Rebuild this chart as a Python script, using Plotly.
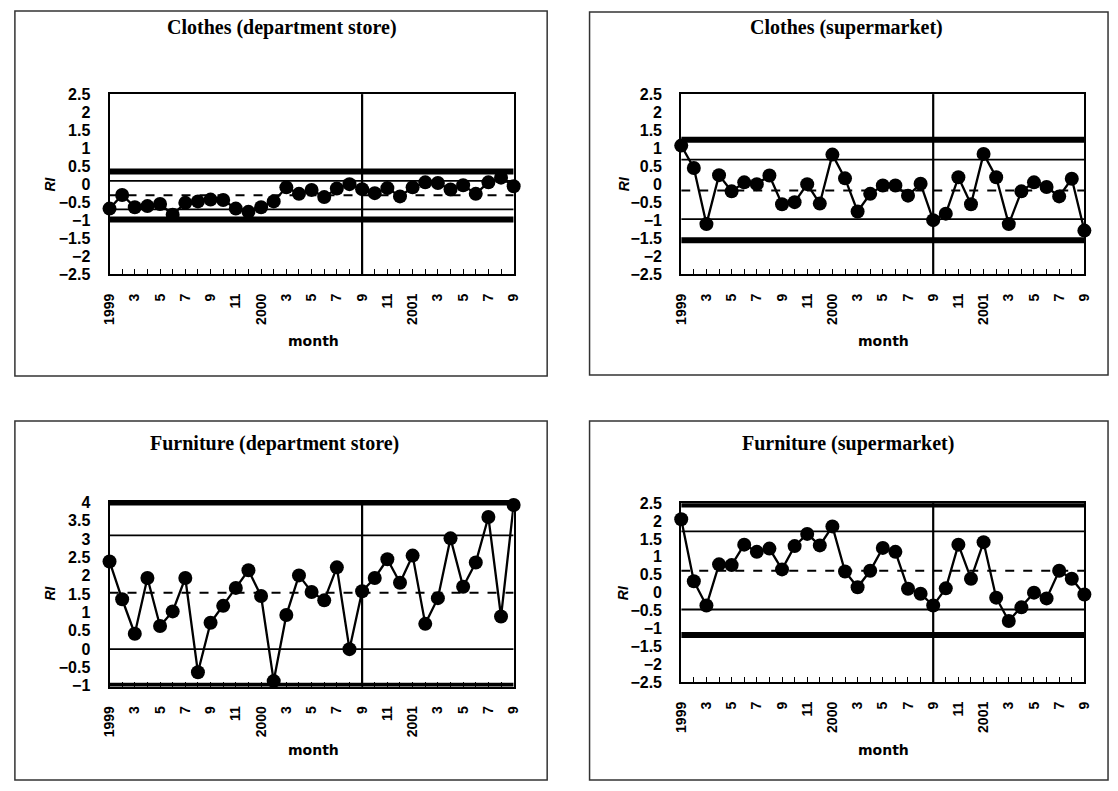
import plotly.graph_objects as go

# ---------------- data ----------------
months = ["1999", "2", "3", "4", "5", "6", "7", "8", "9", "10", "11", "12",
          "2000", "2", "3", "4", "5", "6", "7", "8", "9", "10", "11", "12",
          "2001", "2", "3", "4", "5", "6", "7", "8", "9"]
split_index = 20  # 2000-09 boundary

titles = ["Clothes (department store)", "Clothes (supermarket)",
          "Furniture (department store)", "Furniture (supermarket)"]

clothes_dept = [-0.68, -0.30, -0.64, -0.61, -0.55, -0.85, -0.52, -0.48, -0.43, -0.44,
                -0.68, -0.77, -0.64, -0.48, -0.09, -0.27, -0.16, -0.36, -0.12, 0.00,
                -0.14, -0.25, -0.11, -0.34, -0.09, 0.05, 0.03, -0.15, -0.03, -0.27,
                0.05, 0.18, -0.06]
clothes_super = [1.07, 0.45, -1.11, 0.25, -0.20, 0.05, 0.00, 0.24, -0.56, -0.50,
                 0.00, -0.54, 0.82, 0.16, -0.76, -0.27, -0.04, -0.04, -0.32, 0.01,
                 -1.00, -0.82, 0.19, -0.56, 0.84, 0.19, -1.11, -0.20, 0.05, -0.08,
                 -0.34, 0.15, -1.29]
furniture_dept = [2.39, 1.36, 0.42, 1.94, 0.63, 1.03, 1.94, -0.63, 0.72, 1.18,
                  1.67, 2.15, 1.45, -0.87, 0.93, 2.01, 1.56, 1.33, 2.23, 0.00,
                  1.58, 1.94, 2.45, 1.81, 2.55, 0.69, 1.39, 3.02, 1.70, 2.36,
                  3.60, 0.89, 3.93]
furniture_super = [2.05, 0.32, -0.36, 0.79, 0.77, 1.34, 1.14, 1.23, 0.65, 1.30,
                   1.64, 1.32, 1.85, 0.59, 0.15, 0.61, 1.25, 1.14, 0.11, -0.03,
                   -0.36, 0.12, 1.34, 0.39, 1.41, -0.14, -0.79, -0.41, 0.00, -0.16,
                   0.61, 0.39, -0.05]
series = [clothes_dept, clothes_super, furniture_dept, furniture_super]

# control lines: centre, upper/lower thin, upper/lower control limits
centre = [-0.31, -0.18, 1.54, 0.61]
upper_thin = [0.09, 0.68, 3.10, 1.71]
lower_thin = [-0.70, -0.97, 0.00, -0.47]
ucl = [0.35, 1.23, 4.00, 2.46]
lcl = [-0.98, -1.56, -1.00, -1.18]

y_ranges = [[-2.5, 2.5], [-2.5, 2.5], [-1.02, 4.02], [-2.5, 2.5]]

# ---------------- layout geometry ----------------
W, H = 1118, 791
x_dom = [[103 / W, 513 / W], [683 / W, 1092 / W], [103 / W, 513 / W], [683 / W, 1092 / W]]
y_dom = [[1 - 272 / H, 1 - 88 / H], [1 - 272 / H, 1 - 88 / H],
         [1 - 693.5 / H, 1 - 504.5 / H], [1 - 689 / H, 1 - 506 / H]]
frames = [(7, 3, 547, 376), (590, 4, 1116, 375), (7, 422, 547, 789), (590, 422, 1116, 789)]
title_pos = [(278, 20), (851, 20), (270, 445), (852, 445)]
ri_pos = [(43, 180), (625, 180), (43, 598), (624, 598)]
month_pos = [(310, 340), (888, 340), (310, 758), (888, 758)]

fig = go.Figure()
xs = list(range(len(months)))

for i in range(4):
    xa = "x" if i == 0 else f"x{i+1}"
    ya = "y" if i == 0 else f"y{i+1}"
    # limit lines as traces
    for val, width, dash in [(ucl[i], 6, "solid"), (lcl[i], 6, "solid"),
                             (upper_thin[i], 1.8, "solid"), (lower_thin[i], 1.8, "solid"),
                             (centre[i], 2, "dash")]:
        fig.add_trace(go.Scatter(x=[xs[0], xs[-1]], y=[val, val], mode="lines",
                                 line=dict(color="black", width=width, dash=dash),
                                 xaxis=xa, yaxis=ya, showlegend=False, hoverinfo="skip"))
    fig.add_trace(go.Scatter(x=xs, y=series[i], mode="lines+markers",
                             line=dict(color="black", width=2.3),
                             marker=dict(color="black", size=14),
                             cliponaxis=False,
                             xaxis=xa, yaxis=ya, showlegend=False))
    # vertical split line
    fig.add_shape(type="line", xref=xa, yref=f"{ya} domain", x0=split_index, x1=split_index,
                  y0=0, y1=1, line=dict(color="black", width=2.2))

    axis_x = dict(domain=x_dom[i], range=[0, len(months) - 1], anchor=ya,
                  tickmode="array", tickvals=xs,
                  ticktext=[m if k % 2 == 0 else "" for k, m in enumerate(months)],
                  tickangle=-90, ticks="inside", ticklen=5, tickwidth=1, tickcolor="black",
                  ticklabelstandoff=12,
                  showline=True, mirror=True, linecolor="black", linewidth=2,
                  showgrid=False, zeroline=False,
                  tickfont=dict(family="Liberation Sans, Arial", size=14, color="black", weight="bold"))
    axis_y = dict(domain=y_dom[i], range=y_ranges[i], anchor=xa, dtick=0.5,
                  tick0=0, ticks="", ticklabelstandoff=14,
                  showline=True, mirror=True, linecolor="black", linewidth=2,
                  showgrid=False, zeroline=False,
                  tickfont=dict(family="Liberation Sans Narrow, Liberation Sans, Arial",
                                size=16, color="black", weight="bold"))
    if i == 2:
        axis_y["tickvals"] = [4, 3.5, 3, 2.5, 2, 1.5, 1, 0.5, 0, -0.5, -1]
        axis_y["tickmode"] = "array"
    fig.layout[f"xaxis{'' if i == 0 else i+1}"] = axis_x
    fig.layout[f"yaxis{'' if i == 0 else i+1}"] = axis_y

    x0, y0, x1, y1 = frames[i]
    fig.add_shape(type="rect", xref="paper", yref="paper",
                  x0=x0 / W, x1=x1 / W, y0=1 - y1 / H, y1=1 - y0 / H,
                  line=dict(color="#333333", width=1.5), layer="below")

    tx, ty = title_pos[i]
    fig.add_annotation(text=f"<b>{titles[i]}</b>", xref="paper", yref="paper",
                       x=tx / W, y=1 - ty / H, showarrow=False, xanchor="center", yanchor="middle",
                       font=dict(family="Liberation Serif, Times New Roman", size=20, color="black"))
    rx, ry = ri_pos[i]
    fig.add_annotation(text="<b><i>RI</i></b>", xref="paper", yref="paper",
                       x=rx / W, y=1 - ry / H, showarrow=False, textangle=-90,
                       xanchor="center", yanchor="middle",
                       font=dict(family="Liberation Sans, Arial", size=14, color="black"))
    mx, my = month_pos[i]
    fig.add_annotation(text="<b>month</b>", xref="paper", yref="paper",
                       x=mx / W, y=1 - my / H, showarrow=False,
                       xanchor="center", yanchor="middle",
                       font=dict(family="DejaVu Sans, Liberation Sans", size=14, color="black"))

fig.update_layout(width=W, height=H, margin=dict(l=0, r=0, t=0, b=0),
                  paper_bgcolor="white", plot_bgcolor="white", showlegend=False)

fig.write_html("out.html")
